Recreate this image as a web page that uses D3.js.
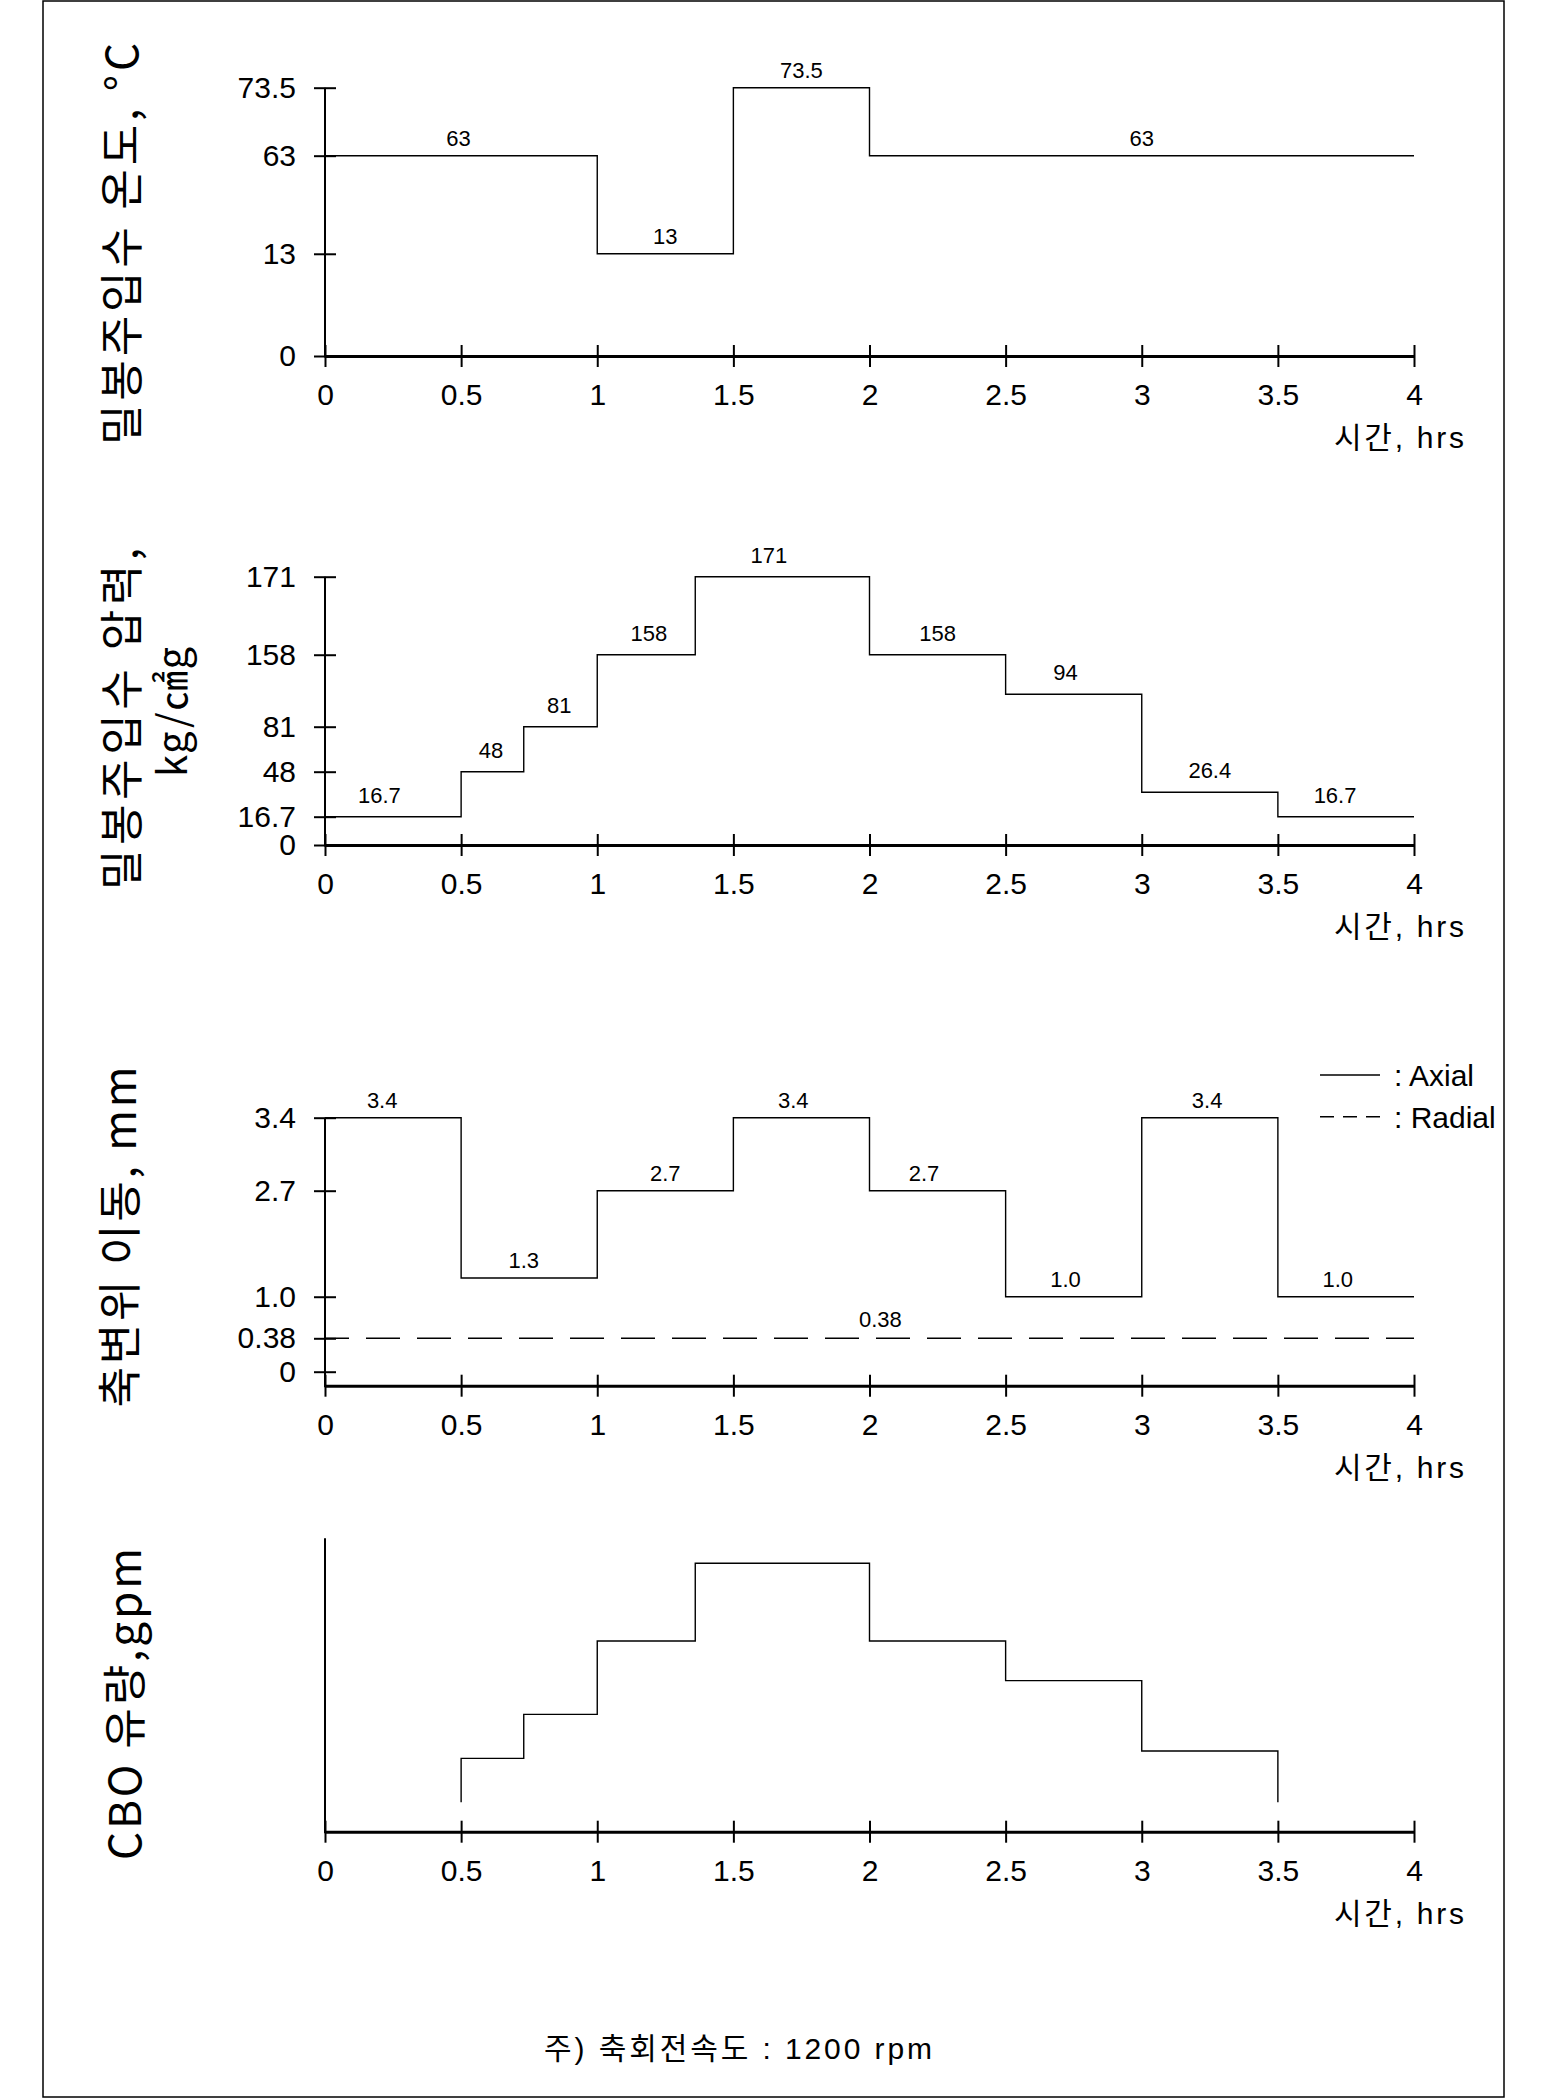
<!DOCTYPE html>
<html>
<head>
<meta charset="utf-8">
<script src="https://cdn.jsdelivr.net/npm/d3@7"></script>
<style>
body { margin: 0; background: #fff; }
text { font-family: "Liberation Sans", "Noto Sans CJK KR", sans-serif; fill: #000; }
</style>
</head>
<body>
<div id="chart"></div>
<script>
// time axis (hrs)
var hours = [0, 0.5, 1, 1.5, 2, 2.5, 3, 3.5, 4];

// 밀봉주입수 온도
var tempTimes = [0, 1, 1.5, 2, 4];
var tempValues = [63, 13, 73.5, 63];
var tempLabelAt = [0.49, 1.25, 1.75, 3.0];
var tempTicks = [0, 13, 63, 73.5];

// 밀봉주입수 압력
var pressTimes = [0, 0.5, 0.73, 1, 1.36, 2, 2.5, 3, 3.5, 4];
var pressValues = [16.7, 48, 81, 158, 171, 158, 94, 26.4, 16.7];
var pressLabelAt = [0.2, 0.61, 0.86, 1.19, 1.63, 2.25, 2.72, 3.25, 3.71];
var pressTicks = [0, 16.7, 48, 81, 158, 171];

// 축변위 이동
var axialTimes = [0, 0.5, 1, 1.5, 2, 2.5, 3, 3.5, 4];
var axialValues = [3.4, 1.3, 2.7, 3.4, 2.7, 1.0, 3.4, 1.0];
var axialLabelAt = [0.21, 0.73, 1.25, 1.72, 2.2, 2.72, 3.24, 3.72];
var radialValue = 0.38;
var radialLabelAt = 2.04;
var dispTicks = [0, 0.38, 1.0, 2.7, 3.4];
var dispTickLabels = ['0', '0.38', '1.0', '2.7', '3.4'];

// CBO 유량 (no scale given, relative)
var cboTimes = [0.5, 0.73, 1, 1.36, 2, 2.5, 3, 3.5];
var cboValues = [25, 40, 65, 91.5, 65, 51.5, 27.5];
var cboBase = 10;

var W = 1550, H = 2100;
var svg = d3.select('#chart').append('svg').attr('width', W).attr('height', H);

// page frame
svg.append('rect').attr('x', 43).attr('y', 1).attr('width', 1461).attr('height', 2096)
    .attr('fill', 'none').attr('stroke', '#000').attr('stroke-width', 1.5);

var x = d3.scaleLinear().domain([0, 4]).range([325, 1414]);

// y knots are placed unevenly in the original drawing
function pieceScale(axisY, topY, knots, fracs) {
    return d3.scaleLinear().domain(knots)
        .range(fracs.map(function (f) { return axisY - f * (axisY - topY); }));
}

function stepPoints(times, values) {
    var pts = values.map(function (v, i) { return [times[i], v]; });
    pts.push([times[times.length - 1], values[values.length - 1]]);
    return pts;
}

function drawAxes(axisY, topY, y, ticks, fmt) {
    var gx = svg.append('g').attr('transform', 'translate(0,' + axisY + ')')
        .call(d3.axisBottom(x).tickValues(hours).tickFormat(d3.format(''))
            .tickSizeInner(0).tickSizeOuter(0).tickPadding(28));
    gx.select('.domain').attr('stroke-width', 3);
    gx.selectAll('.tick line').attr('y1', -11).attr('y2', 11).attr('stroke-width', 2);
    gx.selectAll('.tick text').style('font-size', '30px').attr('font-family', null);

    svg.append('line').attr('x1', x(0)).attr('x2', x(0)).attr('y1', axisY + 1.5).attr('y2', topY)
        .attr('stroke', '#000').attr('stroke-width', 2);

    if (ticks) {
        var gy = svg.append('g').attr('transform', 'translate(' + x(0) + ',0)')
            .call(d3.axisLeft(y).tickValues(ticks).tickFormat(fmt)
                .tickSizeInner(0).tickSizeOuter(0).tickPadding(29));
        gy.select('.domain').remove();
        gy.selectAll('.tick line').attr('x1', -11).attr('x2', 11).attr('stroke-width', 2);
        gy.selectAll('.tick text').style('font-size', '30px').attr('font-family', null);
    }

    svg.append('text').attr('x', 1464).attr('y', axisY + 92).attr('text-anchor', 'end')
        .attr('textLength', 130).style('font-size', '30px').text('시간, hrs');
}

function drawStep(pts, y, dash) {
    var line = d3.line().x(function (d) { return x(d[0]); }).y(function (d) { return y(d[1]); })
        .curve(d3.curveStepAfter);
    svg.append('path').attr('d', line(pts)).attr('fill', 'none')
        .attr('stroke', '#000').attr('stroke-width', 1.4)
        .attr('stroke-dasharray', dash || null).attr('stroke-dashoffset', dash ? 10 : null);
}

function drawLabels(at, values, y, off, fmt) {
    svg.append('g').selectAll('text').data(values).enter().append('text')
        .attr('x', function (d, i) { return x(at[i]); })
        .attr('y', function (d) { return y(d) - off; })
        .attr('text-anchor', 'middle').style('font-size', '22px')
        .text(fmt);
}

function yTitle(cx, cy, len, size, str) {
    svg.append('text').attr('transform', 'translate(' + cx + ',' + cy + ') rotate(-90)')
        .attr('text-anchor', 'middle').attr('dy', '0.36em')
        .attr('textLength', len).attr('lengthAdjust', 'spacing')
        .style('font-size', size + 'px').style('font-family', '"Noto Sans CJK KR", sans-serif')
        .text(str);
}

// ---- panel 1: temperature
var y1 = pieceScale(356, 87.7, [0, 13, 63, 73.5], [0, 0.381, 0.7466, 1]);
drawAxes(356, 87.7, y1, tempTicks, d3.format(''));
drawStep(stepPoints(tempTimes, tempValues), y1);
drawLabels(tempLabelAt, tempValues, y1, 10, function (d) { return d; });
yTitle(122, 244, 402, 44, '밀봉주입수 온도, °C');

// ---- panel 2: pressure
var y2 = pieceScale(845, 576.7, [0, 16.7, 26.4, 48, 81, 94, 158, 171],
    [0, 0.1055, 0.1964, 0.2732, 0.4409, 0.5617, 0.7092, 1]);
drawAxes(845, 576.7, y2, pressTicks, d3.format(''));
drawStep(stepPoints(pressTimes, pressValues), y2);
drawLabels(pressLabelAt, pressValues, y2, 14, function (d) { return d; });
yTitle(122, 719, 342, 44, '밀봉주입수 압력,');
yTitle(173, 712, 130, 40, 'kg/㎠g');

// ---- panel 3: shaft displacement
var y3 = pieceScale(1385.7, 1117.7, [0, 0.38, 1.0, 2.7, 3.4], [0.0522, 0.1769, 0.332, 0.7276, 1]);
drawAxes(1385.7, 1117.7, y3, dispTicks, function (d, i) { return dispTickLabels[i]; });
drawStep(stepPoints(axialTimes, axialValues), y3);
drawStep([[0, radialValue], [4, radialValue]], y3, '34,17');
drawLabels(axialLabelAt, axialValues, y3, 10, d3.format('.1f'));
drawLabels([radialLabelAt], [radialValue], y3, 11, function (d) { return d; });
yTitle(120, 1237, 341, 44, '축변위 이동, mm');

// legend
var legend = svg.append('g');
legend.append('line').attr('x1', 1320).attr('x2', 1380).attr('y1', 1075).attr('y2', 1075)
    .attr('stroke', '#000').attr('stroke-width', 1.4);
legend.append('line').attr('x1', 1320).attr('x2', 1380).attr('y1', 1116.7).attr('y2', 1116.7)
    .attr('stroke', '#000').attr('stroke-width', 1.4).attr('stroke-dasharray', '14,9');
legend.append('text').attr('x', 1394).attr('y', 1086).style('font-size', '30px').text(': Axial');
legend.append('text').attr('x', 1394).attr('y', 1128).style('font-size', '30px').text(': Radial');

// ---- panel 4: CBO flow
var y4 = d3.scaleLinear().domain([0, 100]).range([1831.7, 1538.3]);
drawAxes(1831.7, 1538.3, y4, null);
var cboPts = [[cboTimes[0], cboBase]]
    .concat(cboValues.map(function (v, i) { return [cboTimes[i], v]; }))
    .concat([[cboTimes[cboTimes.length - 1], cboBase]]);
drawStep(cboPts, y4);
yTitle(125, 1704, 312, 44, 'CBO 유량,gpm');

// footnote
svg.append('text').attr('x', 738).attr('y', 2059).attr('text-anchor', 'middle')
    .attr('textLength', 388).style('font-size', '30px').text('주) 축회전속도 : 1200 rpm');
</script>
</body>
</html>
